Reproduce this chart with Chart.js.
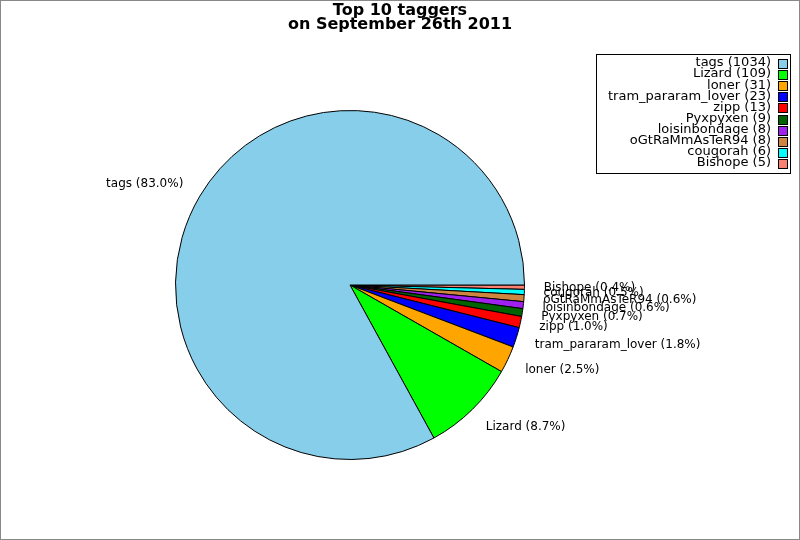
<!DOCTYPE html>
<html>
<head>
<meta charset="utf-8">
<script src="https://cdn.jsdelivr.net/npm/chart.js@4"></script>
<style>
  body { margin: 0; background: #fff; }
  canvas { display: block; }
</style>
</head>
<body>
<canvas id="pieChart" width="800" height="540"></canvas>
<script>
// ===================
// Data
// ===================
const titleLines = ["Top 10 taggers", "on September 26th 2011"];
const taggers = ["tags", "Lizard", "loner", "tram_pararam_lover", "zipp", "Pyxpyxen", "loisinbondage", "oGtRaMmAsTeR94", "cougorah", "Bishope"];
const tagCounts = [1034, 109, 31, 23, 13, 9, 8, 8, 6, 5];
const sliceColors = ["#87ceeb", "#00ff00", "#ffa500", "#0000ff", "#ff0000", "#006400", "#a020f0", "#cd853f", "#00ffff", "#fa8072"];

const total = tagCounts.reduce((a, b) => a + b, 0);
const font = "'DejaVu Sans', sans-serif";

// the reference runs counter-clockwise from 3 o'clock, Chart.js runs clockwise,
// so the dataset is fed reversed and started at 90 degrees
const rev = (arr) => arr.slice().reverse();

// ===================
// Plugin: frame, title, slice labels, legend box
// ===================
const extras = {
  id: "extras",
  afterDraw(chart) {
    const ctx = chart.ctx;
    ctx.save();

    // outer frame
    ctx.strokeStyle = "#888";
    ctx.lineWidth = 1;
    ctx.strokeRect(0.5, 0.5, 799, 539);

    // title
    ctx.fillStyle = "#000";
    ctx.font = "bold 16px " + font;
    ctx.textAlign = "center";
    ctx.textBaseline = "middle";
    ctx.fillText(titleLines[0], 400, 11);
    ctx.fillText(titleLines[1], 400, 25);

    // slice labels
    ctx.font = "12px " + font;
    const labels = rev(taggers);
    const values = rev(tagCounts);
    chart.getDatasetMeta(0).data.forEach((arc, i) => {
      const mid = (arc.startAngle + arc.endAngle) / 2;
      const x = arc.x + Math.cos(mid) * arc.outerRadius * 1.11;
      const y = arc.y + Math.sin(mid) * arc.outerRadius * 1.14;
      const pct = ((values[i] / total) * 100).toFixed(1);
      ctx.textAlign = Math.cos(mid) < 0 ? "right" : "left";
      ctx.fillText(labels[i] + " (" + pct + "%)", x, y);
    });

    // legend
    const bx = 596, by = 54, bw = 194, bh = 119;
    ctx.fillStyle = "#fff";
    ctx.fillRect(bx, by, bw, bh);
    ctx.strokeStyle = "#000";
    ctx.strokeRect(bx + 0.5, by + 0.5, bw, bh);
    ctx.font = "13px " + font;
    ctx.textAlign = "right";
    taggers.forEach((name, i) => {
      const y = 63 + i * 11.1;
      ctx.fillStyle = "#000";
      ctx.fillText(name + " (" + tagCounts[i] + ")", 771, y);
      ctx.fillStyle = sliceColors[i];
      ctx.fillRect(778, Math.round(y) - 4, 9, 9);
      ctx.strokeRect(778.5, Math.round(y) - 3.5, 9, 9);
    });

    ctx.restore();
  },
};

// ===================
// Pie
// ===================
new Chart(document.getElementById("pieChart"), {
  type: "pie",
  data: {
    labels: rev(taggers),
    datasets: [
      {
        data: rev(tagCounts),
        backgroundColor: rev(sliceColors),
        borderColor: "#000",
        borderWidth: 1,
      },
    ],
  },
  options: {
    responsive: false,
    animation: false,
    devicePixelRatio: 1,
    rotation: 90,
    layout: { padding: { left: 175, right: 275, top: 110, bottom: 80 } },
    plugins: {
      legend: { display: false },
      tooltip: { enabled: false },
    },
  },
  plugins: [extras],
});
</script>
</body>
</html>
